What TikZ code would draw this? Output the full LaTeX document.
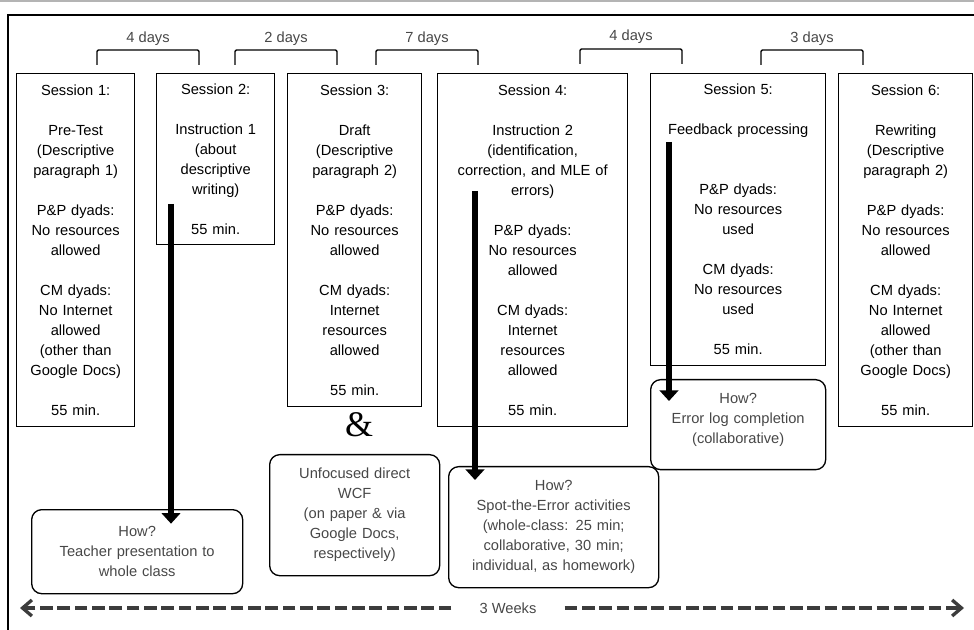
\documentclass[tikz,border=0pt]{standalone}
\usepackage{fontspec}
\setmainfont{Liberation Sans}
\newfontfamily\ampfont{Liberation Serif}
\usetikzlibrary{arrows.meta}
\definecolor{howgray}{HTML}{474747}
\definecolor{linegray}{HTML}{3C3C3C}
\definecolor{rulegray}{HTML}{B4B4B4}
\tikzset{
  session/.style={draw, line width=1pt, anchor=north west, align=center, inner xsep=1pt, inner ysep=0pt},
  howbox/.style={draw, line width=1pt, rounded corners=7.5pt, anchor=north west, align=center, text=howgray, inner xsep=1pt, inner ysep=0pt},
  gapbrace/.style={line width=1pt, rounded corners=1pt},
  daylabel/.style={text=howgray, inner sep=1pt},
  bigarrow/.style={line width=5pt, -{Triangle[length=8pt,width=14pt]}},
  timeline/.style={linegray, line width=2.5pt, dash pattern=on 9.5pt off 3.5pt, -{Straight Barb[length=7pt,width=12pt]}}
}
\begin{document}
\begin{tikzpicture}[x=0.75pt,y=0.75pt,yscale=-1,xscale=1,font=\fontsize{11}{15}\selectfont]
	\useasboundingbox (0,0) rectangle (974,630);
	\draw [rulegray, line width=1.2pt] (0,0.8) -- (974,0.8);
	\draw [line width=1.5pt] (8,640) -- (8,15) -- (984,15);
	\node [session, minimum width=88.5pt, minimum height=264.75pt, text width=86pt] (s1) at (16,73) {Session 1:\\[15pt]Pre-Test\\(Descriptive\\paragraph 1)\\[15pt]P\&P dyads:\\No resources\\allowed\\[15pt]CM dyads:\\No Internet\\allowed\\(other than\\Google Docs)\\[15pt]55 min.};
	\node [session, minimum width=88.5pt, minimum height=128.25pt, text width=86pt] (s2) at (156,73) {Session 2:\\[15pt]Instruction 1\\(about\\descriptive\\writing)\\[15pt]55 min.};
	\node [session, minimum width=100.5pt, minimum height=249.75pt, text width=98pt] (s3) at (287,73) {Session 3:\\[15pt]Draft\\(Descriptive\\paragraph 2)\\[15pt]P\&P dyads:\\No resources\\allowed\\[15pt]CM dyads:\\Internet\\resources\\allowed\\[15pt]55 min.};
	\node [session, minimum width=142.5pt, minimum height=264.75pt, text width=140pt] (s4) at (437,73) {Session 4:\\[15pt]Instruction 2\\(identification,\\correction, and MLE of\\errors)\\[15pt]P\&P dyads:\\No resources\\allowed\\[15pt]CM dyads:\\Internet\\resources\\allowed\\[15pt]55 min.};
	\node [session, minimum width=131.25pt, minimum height=219pt, text width=129pt] (s5) at (650,73) {Session 5:\\[15pt]Feedback processing\\[30pt]P\&P dyads:\\No resources\\used\\[15pt]CM dyads:\\No resources\\used\\[15pt]55 min.};
	\node [session, minimum width=100.5pt, minimum height=264.75pt, text width=98pt] (s6) at (838,73) {Session 6:\\[15pt]Rewriting\\(Descriptive\\paragraph 2)\\[15pt]P\&P dyads:\\No resources\\allowed\\[15pt]CM dyads:\\No Internet\\allowed\\(other than\\Google Docs)\\[15pt]55 min.};
	\draw [gapbrace] (97,65) -- (97,50) -- node [daylabel, above=1.5pt] (d12) {4 days} (199,50) -- (199,65);
	\draw [gapbrace] (235,65) -- (235,50) -- node [daylabel, above=1.5pt] (d23) {2 days} (337,50) -- (337,65);
	\draw [gapbrace] (376,65) -- (376,50) -- node [daylabel, above=1.5pt] (d34) {7 days} (478,50) -- (478,65);
	\draw [gapbrace] (580,64) -- (580,49) -- node [daylabel, above=2.5pt] (d45) {4 days} (682,49) -- (682,64);
	\draw [gapbrace] (761,65) -- (761,50) -- node [daylabel, above=1.5pt] (d56) {3 days} (863,50) -- (863,65);
	\node [howbox, minimum width=158.25pt, minimum height=63pt, text width=155pt] (teach) at (31,509) {How?\\Teacher presentation to\\whole class};
	\node [howbox, minimum width=127.5pt, minimum height=90.75pt, text width=124pt] (wcf) at (269,454) {Unfocused direct\\WCF\\(on paper \& via\\Google Docs,\\respectively)};
	\node [howbox, minimum width=157.5pt, minimum height=90.75pt, text width=154pt] (spot) at (448,466) {How?\\Spot-the-Error activities\\(whole-class: 25 min;\\collaborative, 30 min;\\individual, as homework)};
	\node [howbox, minimum width=131.25pt, minimum height=67.5pt, text width=128pt] (elog) at (650,379) {How?\\Error log completion\\(collaborative)\\[-5pt]\mbox{}};
	\node [font=\ampfont\fontsize{27}{27}\selectfont, inner sep=0pt] (amp) at (359,425) {\&};
	\coordinate (a1) at (171,204);
	\coordinate (a2) at (475,191);
	\coordinate (a3) at (669,142);
	\draw [bigarrow] (a1) -- ([yshift=11pt]teach.north -| a1);
	\draw [bigarrow] (a2) -- ([yshift=10.5pt]spot.north -| a2);
	\draw [bigarrow] (a3) -- ([yshift=16.5pt]elog.north -| a3);
	\node [text=howgray, inner xsep=21pt, inner ysep=1pt] (weeks) at (508,608) {3 Weeks};
	\coordinate (past) at (20,608);
	\coordinate (future) at (964,608);
	\draw [timeline] (weeks.west) -- (past);
	\draw [timeline] (weeks.east) -- (future);
\end{tikzpicture}
\end{document}
